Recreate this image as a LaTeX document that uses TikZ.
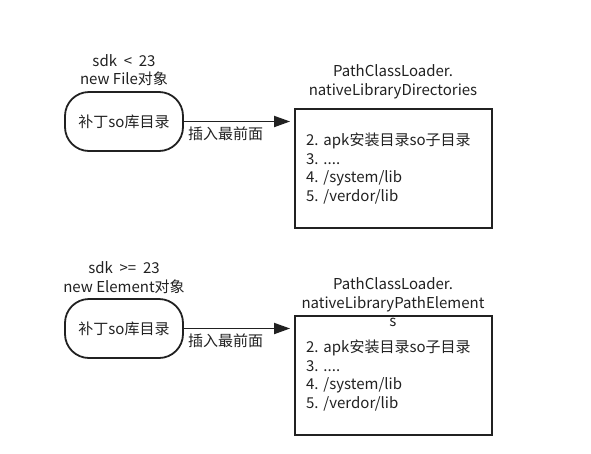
\documentclass[tikz,border=0pt]{standalone}
\usepackage{fontspec}
\setmainfont{Noto Sans CJK SC}
\usetikzlibrary{arrows.meta, positioning}
\definecolor{inkgray}{rgb}{0.13, 0.13, 0.13}
\frenchspacing

\begin{document}
\begin{tikzpicture}[
				x=1pt, y=-1pt,
				texts/.style = {text=inkgray, font=\fontsize{15}{18.5}\selectfont},
				titletexts/.style = {texts, align=center},
				patchnode/.style = {texts, draw=inkgray, line width=1.8pt, rounded corners=24pt, minimum width=118pt, minimum height=59pt},
				dirbox/.style = {texts, draw=inkgray, line width=1.8pt, minimum width=197pt, minimum height=119pt, text width=175pt, inner xsep=11pt, align=left},
				insertline/.style = {draw=inkgray, line width=1.8pt, shorten >=4pt, -{Triangle[length=16pt, width=11pt]}},
				]
				\useasboundingbox (0,0) rectangle (591,453);
				
				% sdk < 23
				\node[patchnode] (patchold) at (124,121.5) {补丁so库目录};
				\node[titletexts] (condold) at (124,70) {sdk \ < \ 23\\new File对象};
				\node[dirbox] (dirold) at (393.5,168.5) {2. apk安装目录so子目录\\3. ....\\4. /system/lib\\5. /verdor/lib};
				\node[titletexts] (titleold) at (393,82) {PathClassLoader.\\nativeLibraryDirectories};
				\draw[insertline] (patchold.east) -- (patchold.east -| dirold.west)
					node[pos=0, below right, texts, yshift=-1pt] {插入最前面};
				
				% sdk >= 23
				\node[patchnode] (patchnew) at (124,328.5) {补丁so库目录};
				\node[titletexts] (condnew) at (124,277.5) {sdk \ >= \ 23\\new Element对象};
				\node[dirbox] (dirnew) at (393.5,375.5) {2. apk安装目录so子目录\\3. ....\\4. /system/lib\\5. /verdor/lib};
				\node[titletexts] (titlenew) at (393,302.5) {PathClassLoader.\\nativeLibraryPathElement\\s};
				\draw[insertline] (patchnew.east) -- (patchnew.east -| dirnew.west)
					node[pos=0, below right, texts, yshift=-1pt] {插入最前面};
\end{tikzpicture}
\end{document}
